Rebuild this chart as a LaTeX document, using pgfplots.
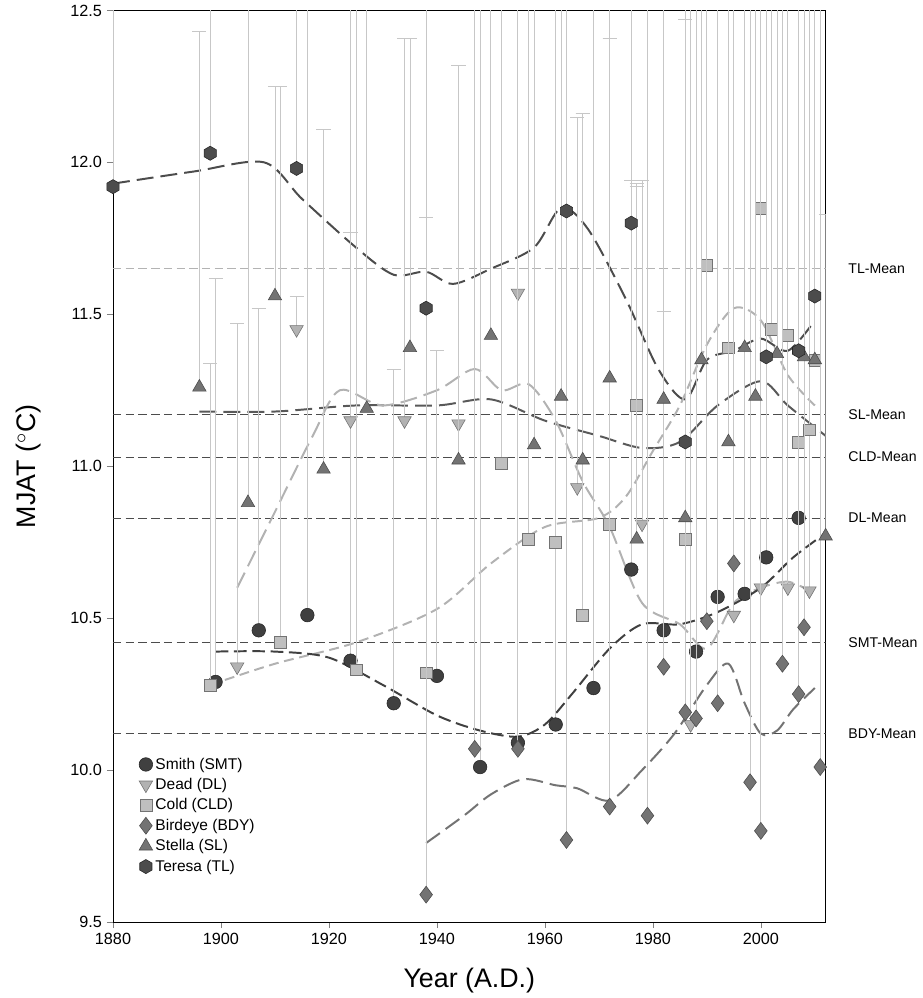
\documentclass[border=0pt]{standalone}
\usepackage{pgfplots}
\pgfplotsset{compat=1.18}
\usepackage{fontspec}
\setmainfont{Liberation Sans}
\pgfdeclareplotmark{hex*}{\pgfpathmoveto{\pgfpointpolar{90}{\pgfplotmarksize}}\pgfpathlineto{\pgfpointpolar{150}{\pgfplotmarksize}}\pgfpathlineto{\pgfpointpolar{210}{\pgfplotmarksize}}\pgfpathlineto{\pgfpointpolar{270}{\pgfplotmarksize}}\pgfpathlineto{\pgfpointpolar{330}{\pgfplotmarksize}}\pgfpathlineto{\pgfpointpolar{30}{\pgfplotmarksize}}\pgfpathclose\pgfusepathqfillstroke}
\definecolor{eb}{gray}{0.78}
\begin{document}
\begin{tikzpicture}
\begin{axis}[scale only axis, width=505pt, height=646pt,
 xmin=1880, xmax=2012, ymin=9.5, ymax=12.5,
 xtick={1880,1900,...,2000}, ytick={9.5,10,...,12.5},
 xticklabel style={/pgf/number format/1000 sep=},
 yticklabel style={/pgf/number format/fixed,/pgf/number format/fixed zerofill,/pgf/number format/precision=1},
 /pgf/number format/assume math mode=true,
 tick label style={font=\fontsize{11.5}{13}\selectfont},
 tick align=outside, xtick pos=bottom, ytick pos=left,
 xlabel={Year (A.D.)}, ylabel={MJAT ($^{\circ}$C)},
 label style={font=\fontsize{19}{22}\selectfont},
 ylabel style={yshift=14pt},
 xlabel style={yshift=-10pt},
 clip mode=individual,
 legend style={at={(axis cs:1884,10.06)},anchor=north west,draw=none,fill=none,font=\fontsize{11}{13}\selectfont,row sep=1pt},
 legend cell align=left,
 every axis plot/.append style={thin},
 error bars/error bar style={eb, line width=0.6pt},
 error bars/error mark options={eb, mark size=5pt, rotate=90},
]
\addplot[eb!90!black, dash pattern=on 6pt off 3pt, forget plot] coordinates {(1880,11.65)(2012,11.65)};
\addplot[black!70, dash pattern=on 6pt off 3pt, forget plot] coordinates {(1880,11.17)(2012,11.17)};
\addplot[black!70, dash pattern=on 6pt off 3pt, forget plot] coordinates {(1880,11.03)(2012,11.03)};
\addplot[black!70, dash pattern=on 6pt off 3pt, forget plot] coordinates {(1880,10.83)(2012,10.83)};
\addplot[black!70, dash pattern=on 6pt off 3pt, forget plot] coordinates {(1880,10.42)(2012,10.42)};
\addplot[black!70, dash pattern=on 6pt off 3pt, forget plot] coordinates {(1880,10.12)(2012,10.12)};
\addplot[black!70, line width=1.4pt, dash pattern=on 12pt off 5pt, forget plot, smooth] coordinates {(1880,11.93)(1895,11.97)(1908,12.00)(1915,11.88)(1925,11.72)(1932,11.63)(1938,11.64)(1943,11.60)(1950,11.65)(1958,11.72)(1963,11.85)(1968,11.78)(1975,11.55)(1981,11.32)(1986,11.22)(1990,11.35)(1995,11.38)(2000,11.42)(2005,11.38)(2010,11.48)};
\addplot[black!65, line width=1.4pt, dash pattern=on 12pt off 5pt, forget plot, smooth] coordinates {(1896,11.18)(1910,11.18)(1925,11.20)(1940,11.20)(1950,11.22)(1960,11.15)(1970,11.10)(1978,11.06)(1985,11.08)(1992,11.20)(2000,11.28)(2005,11.20)(2012,11.10)};
\addplot[black!30, line width=1.4pt, dash pattern=on 12pt off 5pt, forget plot, smooth] coordinates {(1903,10.60)(1910,10.85)(1917,11.10)(1922,11.25)(1930,11.20)(1940,11.25)(1947,11.32)(1952,11.25)(1957,11.27)(1962,11.15)(1967,10.95)(1972,10.80)(1978,10.55)(1985,10.48)(1990,10.40)(1995,10.55)(2000,10.60)(2005,10.62)(2009,10.59)};
\addplot[black!30, line width=1.4pt, dash pattern=on 7pt off 4pt, forget plot, smooth] coordinates {(1898,10.28)(1910,10.35)(1925,10.42)(1940,10.53)(1950,10.68)(1960,10.80)(1970,10.83)(1975,10.90)(1980,11.05)(1985,11.20)(1990,11.40)(1995,11.52)(2000,11.48)(2005,11.30)(2010,11.20)};
\addplot[black!75, line width=1.4pt, dash pattern=on 9pt off 4pt, forget plot, smooth] coordinates {(1899,10.39)(1910,10.39)(1920,10.37)(1930,10.28)(1940,10.18)(1948,10.13)(1955,10.11)(1960,10.15)(1965,10.25)(1972,10.40)(1978,10.48)(1985,10.48)(1992,10.52)(2000,10.60)(2006,10.70)(2012,10.78)};
\addplot[black!55, line width=1.4pt, dash pattern=on 12pt off 5pt, forget plot, smooth] coordinates {(1938,9.76)(1945,9.85)(1950,9.92)(1956,9.97)(1962,9.95)(1966,9.94)(1972,9.90)(1978,10.00)(1984,10.12)(1990,10.28)(1994,10.35)(1997,10.22)(2000,10.12)(2003,10.13)(2006,10.20)(2010,10.27)};
\addplot[only marks, mark=*, mark size=4.8pt, mark options={fill=black!75, draw=black!85}, error bars/.cd, y dir=plus, y explicit] table[y error index=2] {
1899 10.29 1.33
1907 10.46 1.06
1916 10.51 2.5
1924 10.36 2.5
1932 10.22 1.10
1940 10.31 1.07
1948 10.01 2.5
1955 10.09 2.5
1962 10.15 2.5
1969 10.27 2.5
1976 10.66 1.28
1982 10.46 1.05
1988 10.39 2.5
1992 10.57 2.5
1997 10.58 2.5
2001 10.70 2.5
2007 10.83 2.5
};
\addlegendentry{Smith (SMT)}
\addplot[only marks, mark=triangle*, mark size=5.5pt, mark options={rotate=180, fill=black!30, draw=black!55}, error bars/.cd, y dir=plus, y explicit] table[y error index=2] {
1903 10.34 1.13
1914 11.45 0.11
1924 11.15 0.62
1934 11.15 1.26
1944 11.14 1.18
1955 11.57 0.95
1966 10.93 1.22
1978 10.81 1.13
1987 10.15 2.5
1995 10.51 2.5
2000 10.60 2.5
2005 10.60 2.5
2009 10.59 2.5
};
\addlegendentry{Dead (DL)}
\addplot[only marks, mark=square*, mark size=4.2pt, mark options={fill=black!25, draw=black!55}, error bars/.cd, y dir=plus, y explicit] table[y error index=2] {
1898 10.28 1.06
1911 10.42 1.83
1925 10.33 2.5
1938 10.32 1.50
1952 11.01 2.5
1957 10.76 2.5
1962 10.75 2.5
1967 10.51 1.65
1972 10.81 1.60
1977 11.20 0.72
1986 10.76 1.71
1990 11.66 2.5
1994 11.39 2.5
2000 11.85 2.5
2002 11.45 2.5
2005 11.43 2.5
2007 11.08 2.5
2009 11.12 2.5
2010 11.35 2.5
};
\addlegendentry{Cold (CLD)}
\addplot[only marks, mark=diamond*, mark size=6pt, mark options={fill=black!55, draw=black!70}, error bars/.cd, y dir=plus, y explicit] table[y error index=2] {
1938 9.59 3.0
1947 10.07 2.5
1955 10.07 2.5
1964 9.77 3.0
1972 9.88 2.7
1979 9.85 2.7
1982 10.34 2.5
1986 10.19 2.5
1988 10.17 2.5
1990 10.49 2.5
1992 10.22 2.5
1995 10.68 2.5
1998 9.96 2.7
2000 9.80 2.8
2004 10.35 2.5
2007 10.25 2.5
2008 10.47 2.5
2011 10.01 2.5
};
\addlegendentry{Birdeye (BDY)}
\addplot[only marks, mark=triangle*, mark size=5.5pt, mark options={fill=black!55, draw=black!70}, error bars/.cd, y dir=plus, y explicit] table[y error index=2] {
1896 11.26 1.17
1905 10.88 2.5
1910 11.56 0.69
1919 10.99 1.12
1927 11.19 2.5
1935 11.39 1.02
1944 11.02 1.30
1950 11.43 2.5
1958 11.07 2.5
1963 11.23 2.5
1967 11.02 1.14
1972 11.29 1.12
1977 10.76 1.17
1982 11.22 0.29
1986 10.83 2.5
1989 11.35 2.5
1994 11.08 2.5
1997 11.39 2.5
1999 11.23 2.5
2003 11.37 2.5
2008 11.36 2.5
2010 11.35 2.5
2012 10.77 1.06
};
\addlegendentry{Stella (SL)}
\addplot[only marks, mark=hex*, mark size=5pt, mark options={fill=black!70, draw=black!85}, error bars/.cd, y dir=plus, y explicit] table[y error index=2] {
1880 11.92 2.5
1898 12.03 2.5
1914 11.98 2.5
1938 11.52 2.5
1964 11.84 2.5
1976 11.80 2.5
1986 11.08 2.5
2001 11.36 2.5
2007 11.38 2.5
2010 11.56 2.5
};
\addlegendentry{Teresa (TL)}
\pgfplotsset{every node/.style={font=\fontsize{11}{12}\selectfont}}
\node[anchor=west] at (rel axis cs:1.025,0.7167) {TL-Mean};
\node[anchor=west] at (rel axis cs:1.025,0.5567) {SL-Mean};
\node[anchor=west] at (rel axis cs:1.025,0.51) {CLD-Mean};
\node[anchor=west] at (rel axis cs:1.025,0.4433) {DL-Mean};
\node[anchor=west] at (rel axis cs:1.025,0.3067) {SMT-Mean};
\node[anchor=west] at (rel axis cs:1.025,0.2067) {BDY-Mean};
\end{axis}
\path (current bounding box.west) ++(-4pt,0) coordinate (pad);
\useasboundingbox (current bounding box.south west) ++(-4pt,0) rectangle (current bounding box.north east);
\end{tikzpicture}
\end{document}
